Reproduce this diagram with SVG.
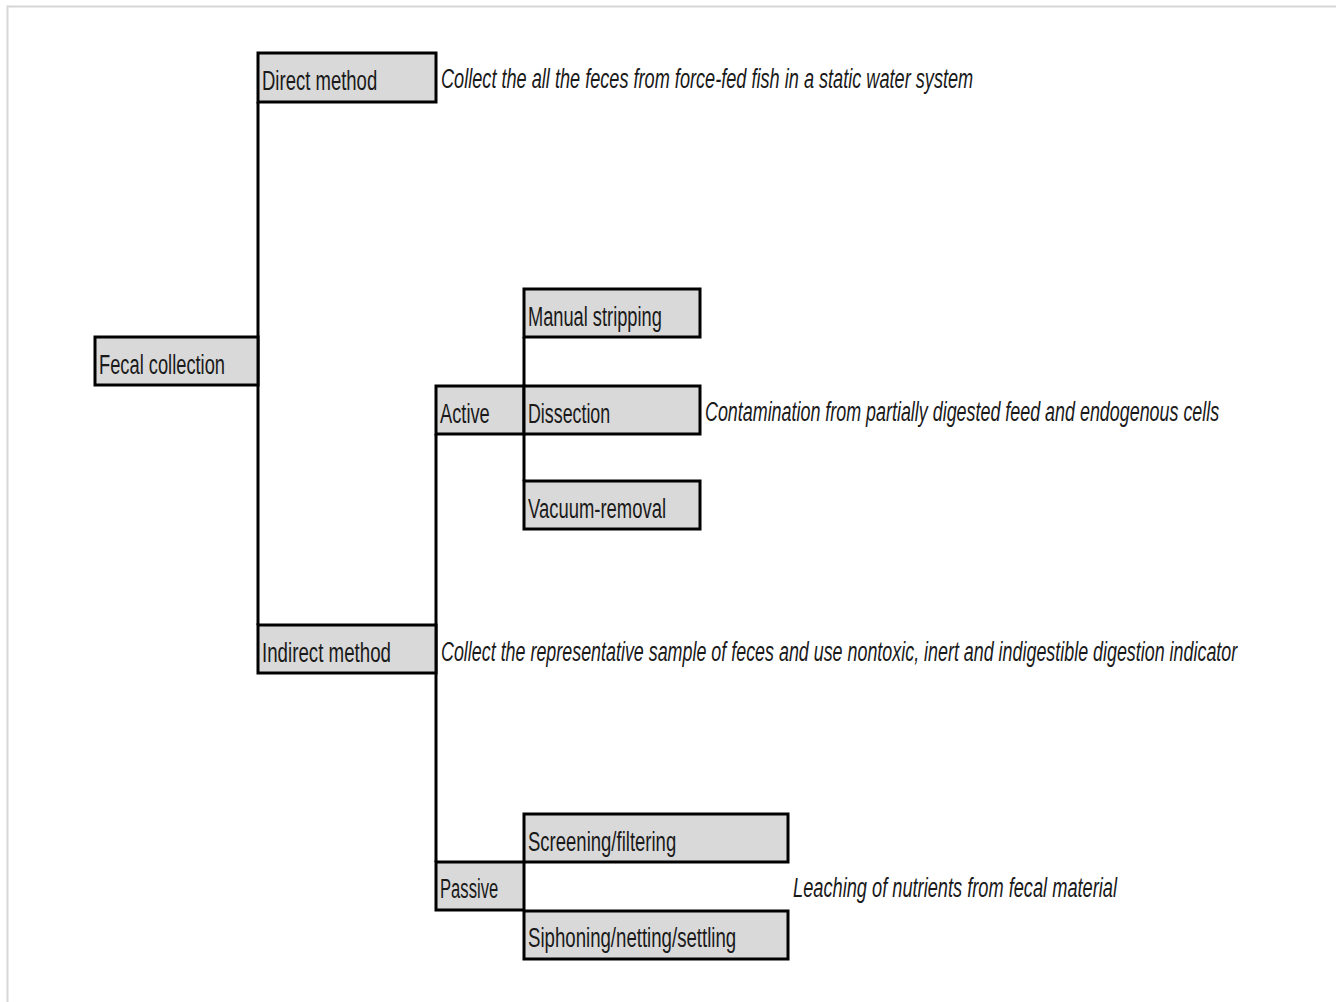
<svg xmlns="http://www.w3.org/2000/svg" width="1344" height="1002" viewBox="0 0 1344 1002">
<style>
.box{fill:#d9d9d9;stroke:#000;stroke-width:3}
.ln{stroke:#000;stroke-width:3;fill:none}
.t{font-family:"Liberation Sans",Arial,sans-serif;font-size:28px;fill:#1a1a1a}
.i{font-style:italic}
</style>
<rect x="0" y="0" width="1344" height="1002" fill="#fff"/>
<path d="M7.5,1002 V6.5 H1336" stroke="#d6d6d6" stroke-width="2" fill="none"/>
<g id="connectors">
<path class="ln" d="M258,102 V625"/>
<path class="ln" d="M436,434 V862"/>
<path class="ln" d="M524,337 V481"/>
</g>
<g id="fecal-collection"><rect class="box" x="95" y="337" width="163" height="48"/><text class="t" transform="translate(99,374) scale(0.6,1)" textLength="210" lengthAdjust="spacingAndGlyphs">Fecal collection</text></g>
<g id="direct-method"><rect class="box" x="258" y="53" width="178" height="49"/><text class="t" transform="translate(262,90) scale(0.6,1)" textLength="192" lengthAdjust="spacingAndGlyphs">Direct method</text></g>
<g id="direct-note"><text class="t i" transform="translate(441,88) scale(0.6,1)" textLength="887" lengthAdjust="spacingAndGlyphs">Collect the all the feces from force-fed fish in a static water system</text></g>
<g id="manual-stripping"><rect class="box" x="524" y="289" width="176" height="48"/><text class="t" transform="translate(528,326) scale(0.6,1)" textLength="223" lengthAdjust="spacingAndGlyphs">Manual stripping</text></g>
<g id="active"><rect class="box" x="436" y="386" width="88" height="48"/><text class="t" transform="translate(440,423) scale(0.6,1)" textLength="83" lengthAdjust="spacingAndGlyphs">Active</text></g>
<g id="dissection"><rect class="box" x="524" y="386" width="176" height="48"/><text class="t" transform="translate(528,423) scale(0.6,1)" textLength="137" lengthAdjust="spacingAndGlyphs">Dissection</text></g>
<g id="dissection-note"><text class="t i" transform="translate(705,421) scale(0.6,1)" textLength="857" lengthAdjust="spacingAndGlyphs">Contamination from partially digested feed and endogenous cells</text></g>
<g id="vacuum-removal"><rect class="box" x="524" y="481" width="176" height="48"/><text class="t" transform="translate(528,518) scale(0.6,1)" textLength="230" lengthAdjust="spacingAndGlyphs">Vacuum-removal</text></g>
<g id="indirect-method"><rect class="box" x="258" y="625" width="178" height="48"/><text class="t" transform="translate(262,662) scale(0.6,1)" textLength="215" lengthAdjust="spacingAndGlyphs">Indirect method</text></g>
<g id="indirect-note"><text class="t i" transform="translate(441,661) scale(0.6,1)" textLength="1327" lengthAdjust="spacingAndGlyphs">Collect the representative sample of feces and use nontoxic, inert and indigestible digestion indicator</text></g>
<g id="screening"><rect class="box" x="524" y="814" width="264" height="48"/><text class="t" transform="translate(528,851) scale(0.6,1)" textLength="247" lengthAdjust="spacingAndGlyphs">Screening/filtering</text></g>
<g id="passive"><rect class="box" x="436" y="862" width="88" height="48"/><text class="t" transform="translate(440,898) scale(0.6,1)" textLength="97" lengthAdjust="spacingAndGlyphs">Passive</text></g>
<g id="siphoning"><rect class="box" x="524" y="911" width="264" height="48"/><text class="t" transform="translate(528,947) scale(0.6,1)" textLength="347" lengthAdjust="spacingAndGlyphs">Siphoning/netting/settling</text></g>
<g id="passive-note"><text class="t i" transform="translate(793,897) scale(0.6,1)" textLength="540" lengthAdjust="spacingAndGlyphs">Leaching of nutrients from fecal material</text></g>
</svg>
